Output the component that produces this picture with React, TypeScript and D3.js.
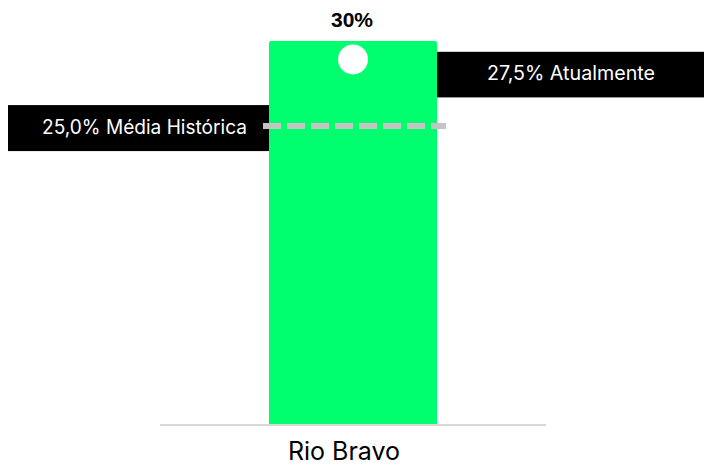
import React from "react";
import * as d3 from "d3";

const categories = ["Rio Bravo"];
const barValues = [30];
const barLabels = ["30%"];
const currentValue = 27.5;
const historicalValue = 25.0;
const currentLabel = "27,5% Atualmente";
const historicalLabel = "25,0% Média Histórica";

const W = 704;
const H = 466;

export default function App() {
  const x = d3.scaleBand<string>().domain(categories).range([160, 546]).paddingInner(0).paddingOuter(0.649);
  const y = d3.scaleLinear().domain([0, 30]).range([424, 41]);
  // secondary scale used for the reference markers
  const yM = d3.scaleLinear().domain([13.83, 28.19]).range([424, 41]);

  const bx = x(categories[0])!;
  const bw = x.bandwidth();
  const cx = bx + bw / 2;
  const yCur = yM(currentValue);
  const yHist = yM(historicalValue);

  const font = "Inter, 'Noto Sans', sans-serif";

  return (
    <svg width={W} height={H} style={{ position: "absolute", left: 0, top: 0, background: "#fff" }}>
      {/* right label box */}
      <rect x={bx + bw} y={yCur - 7.6} width={W - (bx + bw)} height={45.6} fill="#000" />
      <text x={571} y={yCur + 15.6} fill="#fff" fontFamily={font} fontSize={19.5} textAnchor="middle" dominantBaseline="middle" textLength={168} lengthAdjust="spacingAndGlyphs">
        {currentLabel}
      </text>
      {/* left label box */}
      <rect x={8} y={yHist - 21} width={bx - 8 + 1} height={46} fill="#000" />
      <text x={144.5} y={yHist + 2.6} fill="#fff" fontFamily={font} fontSize={19.5} textAnchor="middle" dominantBaseline="middle" textLength={205} lengthAdjust="spacingAndGlyphs">
        {historicalLabel}
      </text>
      {/* bars */}
      {barValues.map((v, i) => (
        <g key={i}>
          <rect x={x(categories[i])!} y={y(v)} width={bw} height={y(0) - y(v)} fill="#00FF6E" rx={2} />
          <rect x={x(categories[i])!} y={y(v) + 4} width={bw} height={y(0) - y(v) - 4} fill="#00FF6E" />
          <text x={cx - 1} y={y(v) - 14.5} textAnchor="middle" fontFamily="'Liberation Sans', Arial, sans-serif" fontWeight="bold" fontSize={21} fill="#000">
            {barLabels[i]}
          </text>
        </g>
      ))}
      {/* historical dashed line */}
      <line x1={263} x2={446} y1={yHist} y2={yHist} stroke="#C4C4C4" strokeWidth={6} strokeDasharray="18 6" />
      {/* current marker */}
      <circle cx={cx} cy={yCur} r={15} fill="#fff" />
      {/* baseline */}
      <line x1={160} x2={546} y1={y(0) + 1} y2={y(0) + 1} stroke="#CCCCCC" strokeWidth={1.5} />
      {/* category label */}
      <text x={cx - 9} y={460} textAnchor="middle" fontFamily={font} fontSize={25} fill="#000">
        {categories[0]}
      </text>
    </svg>
  );
}
